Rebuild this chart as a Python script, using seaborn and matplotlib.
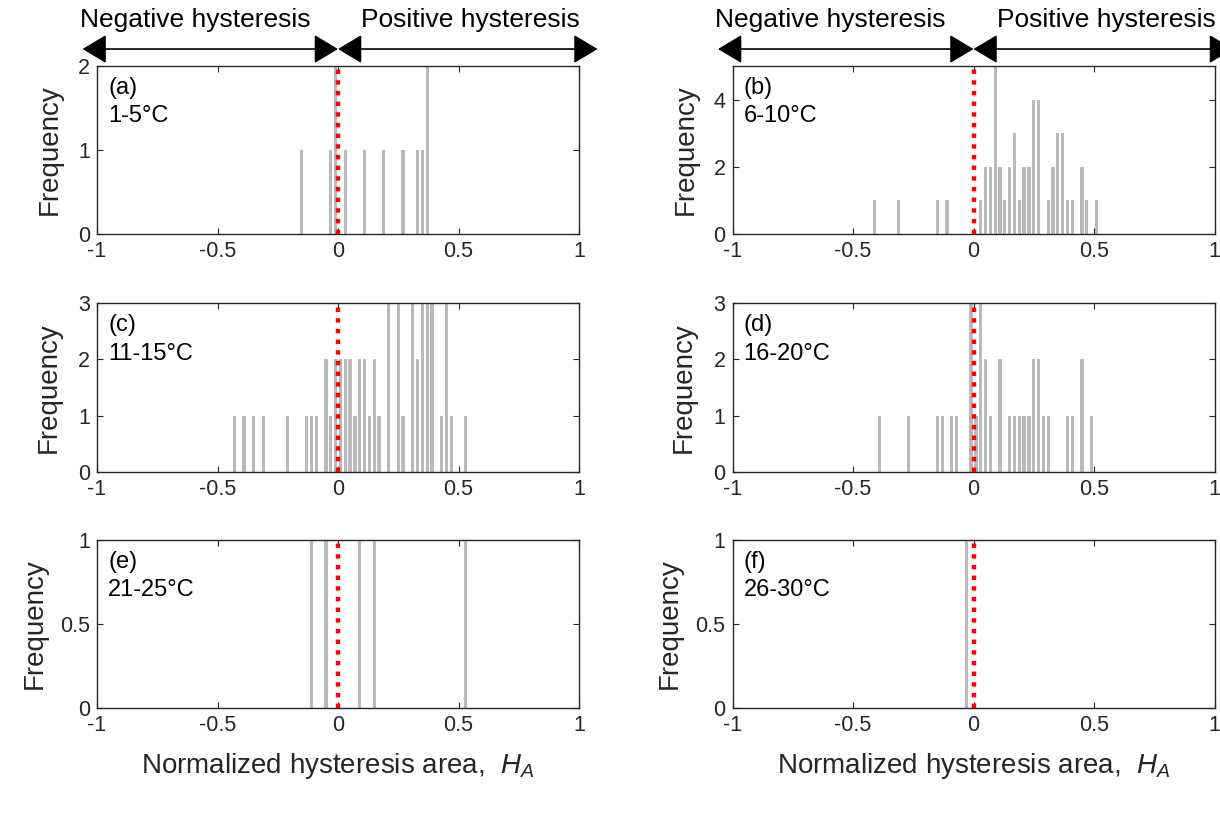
import numpy as np
import pandas as pd
import matplotlib
matplotlib.use("Agg")
import matplotlib.pyplot as plt
import seaborn as sns

# ---------------- data (bin centres, counts) ----------------
centers_a = [-0.15, -0.03, -0.01, 0.03, 0.11, 0.19, 0.27, 0.33, 0.35, 0.37]
counts_a = [1, 1, 2, 1, 1, 1, 1, 1, 1, 2]

centers_b = [-0.41, -0.31, -0.15, -0.11, 0.03, 0.05, 0.07, 0.09, 0.11, 0.13, 0.15, 0.17, 0.19,
             0.21, 0.23, 0.25, 0.27, 0.31, 0.33, 0.35, 0.37, 0.39, 0.41, 0.45, 0.47, 0.51]
counts_b = [1, 1, 1, 1, 1, 2, 2, 5, 2, 1, 2, 3, 1,
            2, 2, 4, 4, 1, 2, 3, 3, 1, 1, 2, 1, 1]

centers_c = [-0.43, -0.39, -0.35, -0.31, -0.21, -0.13, -0.11, -0.09, -0.05, -0.03, -0.01, 0.01,
             0.03, 0.05, 0.07, 0.09, 0.11, 0.13, 0.15, 0.17, 0.21, 0.25, 0.27, 0.31, 0.33, 0.35,
             0.37, 0.39, 0.43, 0.45, 0.47, 0.53]
counts_c = [1, 1, 1, 1, 1, 1, 1, 1, 2, 1, 2, 2,
            2, 2, 1, 2, 2, 1, 2, 1, 3, 3, 1, 3, 2, 3,
            3, 3, 1, 3, 1, 1]

centers_d = [-0.39, -0.27, -0.15, -0.13, -0.09, -0.07, -0.01, 0.01, 0.03, 0.05, 0.07, 0.11,
             0.15, 0.17, 0.19, 0.21, 0.23, 0.25, 0.27, 0.29, 0.31, 0.39, 0.41, 0.45, 0.49]
counts_d = [1, 1, 1, 1, 1, 1, 3, 1, 3, 2, 1, 2,
            1, 1, 1, 1, 1, 2, 2, 1, 1, 1, 1, 2, 1]

centers_e = [-0.11, -0.05, 0.09, 0.15, 0.53]
counts_e = [1, 1, 1, 1, 1]

centers_f = [-0.03]
counts_f = [1]

panel_letters = ["(a)", "(b)", "(c)", "(d)", "(e)", "(f)"]
panel_ranges = ["1-5°C", "6-10°C", "11-15°C", "16-20°C", "21-25°C", "26-30°C"]
ylims = [2, 5, 3, 3, 1, 1]
yticks_list = [[0, 1, 2], [0, 2, 4], [0, 1, 2, 3], [0, 1, 2, 3], [0, 0.5, 1], [0, 0.5, 1]]
ytick_labels = [["0", "1", "2"], ["0", "2", "4"], ["0", "1", "2", "3"], ["0", "1", "2", "3"],
                ["0", "0.5", "1"], ["0", "0.5", "1"]]
xticks = [-1, -0.5, 0, 0.5, 1]
xtick_labels = ["-1", "-0.5", "0", "0.5", "1"]
xlabel_text = "Normalized hysteresis area,  $H_A$"
ylabel_text = "Frequency"
neg_text = "Negative hysteresis"
pos_text = "Positive hysteresis"

centers = [centers_a, centers_b, centers_c, centers_d, centers_e, centers_f]
counts = [counts_a, counts_b, counts_c, counts_d, counts_e, counts_f]

# ---------------- style ----------------
sns.set_style("ticks")
plt.rcParams['font.family'] = ['Liberation Sans', 'DejaVu Sans']
plt.rcParams['mathtext.fontset'] = 'custom'
plt.rcParams['mathtext.rm'] = 'Liberation Sans'
plt.rcParams['mathtext.it'] = 'Liberation Sans:italic'
plt.rcParams['axes.unicode_minus'] = False

W, H = 1220, 819
fig = plt.figure(figsize=(W / 100, H / 100), dpi=100)

col_left = [97, 732.5]
col_w = 482
row_top = [66, 303, 540]
row_h = [168, 169, 168]
ylabel_x = [-0.098, -0.098, -0.101, -0.101, -0.13, -0.13]

bar_color = "#bababa"
axis_color = "#262626"

axes = []
for i in range(6):
    r, c = divmod(i, 2)
    left = col_left[c] / W
    bottom = 1 - (row_top[r] + row_h[r]) / H
    ax = fig.add_axes([left, bottom, col_w / W, row_h[r] / H])
    axes.append(ax)
    df = pd.DataFrame({"x": centers[i], "n": counts[i]})
    sns.histplot(data=df, x="x", weights="n", binwidth=0.02, binrange=(-1.0, 1.0),
                 shrink=0.68, color=bar_color, alpha=1, linewidth=0, ax=ax)
    ax.axvline(0, color="red", lw=3.2, linestyle=(0, (1, 1.4)), dash_capstyle="butt", zorder=5)
    ax.set_xlim(-1, 1)
    ax.set_ylim(0, ylims[i])
    ax.set_xticks(xticks)
    ax.set_xticklabels(xtick_labels)
    ax.set_yticks(yticks_list[i])
    ax.set_yticklabels(ytick_labels[i])
    ax.tick_params(direction="in", top=True, right=True, length=4, width=0.8,
                   labelsize=15.5, colors=axis_color, pad=5)
    for sp in ax.spines.values():
        sp.set_visible(True)
        sp.set_color(axis_color)
        sp.set_linewidth(1.0)
    ax.set_ylabel(ylabel_text, fontsize=20, color=axis_color, va="center")
    ax.yaxis.set_label_coords(ylabel_x[i], 0.5)
    ax.set_xlabel("")
    ax.text(0.023, 0.87, panel_letters[i], transform=ax.transAxes, fontsize=17,
            ha="left", va="center", color="black")
    ax.text(0.023, 0.70, panel_ranges[i], transform=ax.transAxes, fontsize=17,
            ha="left", va="center", color="black")

# x labels under bottom panels
for ax in axes[4:]:
    ax.set_xlabel(xlabel_text, fontsize=20, color=axis_color, va="center")
    ax.xaxis.set_label_coords(0.5, -0.345)

# hysteresis arrows above top panels
for ax in axes[:2]:
    y_ar = 1.101
    for x0, x1 in [(-1.06, 0.0), (0.0, 1.077)]:
        ax.annotate("", xy=(x1, y_ar), xytext=(x0, y_ar),
                    xycoords=("data", "axes fraction"), textcoords=("data", "axes fraction"),
                    arrowprops=dict(arrowstyle="<|-|>,head_length=0.75,head_width=0.45",
                                    mutation_scale=20, color="black", lw=1.2,
                                    shrinkA=0, shrinkB=0),
                    annotation_clip=False)
    ax.text(-0.593, 1.274, neg_text, transform=ax.get_xaxis_transform(), fontsize=19,
            ha="center", va="center", color="black", clip_on=False)
    ax.text(0.55, 1.274, pos_text, transform=ax.get_xaxis_transform(), fontsize=19,
            ha="center", va="center", color="black", clip_on=False)

fig.savefig("out.png", dpi=100)
